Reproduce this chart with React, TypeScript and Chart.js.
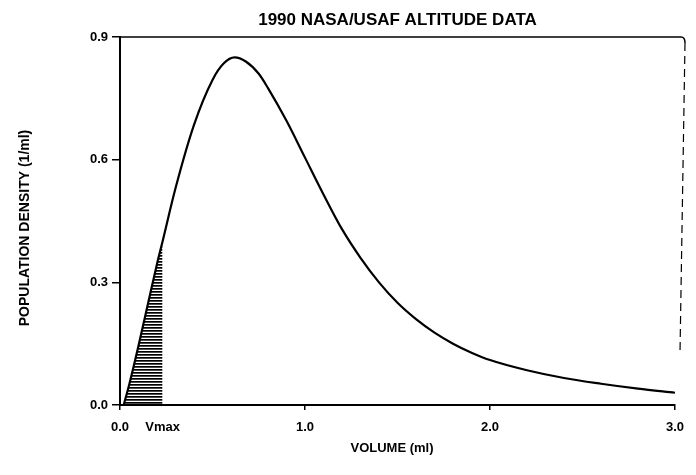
import React, { useEffect, useRef } from "react";
import { Chart, registerables } from "chart.js";

Chart.register(...registerables);

const TITLE = "1990 NASA/USAF ALTITUDE DATA";
const X_TITLE = "VOLUME (ml)";
const Y_TITLE = "POPULATION DENSITY (1/ml)";

const VMAX = 0.23;
const VMAX_LABEL = "Vmax";

const volume = [0.02, 0.05, 0.1, 0.15, 0.2, 0.23, 0.3, 0.4, 0.5, 0.56, 0.62, 0.68, 0.75, 0.8, 0.9, 1.0, 1.1, 1.2, 1.3, 1.4, 1.5, 1.6, 1.7, 1.8, 1.9, 2.0, 2.2, 2.4, 2.6, 2.8, 3.0];
const density = [0.0, 0.05, 0.145, 0.245, 0.345, 0.4, 0.53, 0.685, 0.795, 0.835, 0.85, 0.84, 0.81, 0.775, 0.695, 0.605, 0.515, 0.43, 0.36, 0.3, 0.25, 0.21, 0.177, 0.15, 0.128, 0.11, 0.085, 0.066, 0.052, 0.04, 0.03];

const xTicks = [0, 1, 2, 3];
const yTicks = [0, 0.3, 0.6, 0.9];

const FONT = "'Liberation Sans', Arial, sans-serif";

export default function App() {
  const ref = useRef<HTMLCanvasElement | null>(null);

  useEffect(() => {
    const canvas = ref.current;
    if (!canvas) return;

    const pc = document.createElement("canvas");
    pc.width = 4;
    pc.height = 3;
    const pctx = pc.getContext("2d")!;
    pctx.fillStyle = "#000";
    pctx.fillRect(0, 0, 4, 1.7);
    const pattern = canvas.getContext("2d")!.createPattern(pc, "repeat");

    const curve = volume.map((v, i) => ({ x: v, y: density[i] }));
    const shaded = curve.filter((p) => p.x <= VMAX + 1e-9);

    const decor = {
      id: "decor",
      afterDraw(chart: any) {
        const { ctx, chartArea } = chart;
        ctx.save();
        ctx.strokeStyle = "#000";
        ctx.lineWidth = 1.5;
        ctx.beginPath();
        ctx.moveTo(chartArea.left, chartArea.top);
        ctx.lineTo(chartArea.right + 6, chartArea.top);
        ctx.quadraticCurveTo(chartArea.right + 10, chartArea.top, chartArea.right + 10, chartArea.top + 6);
        ctx.stroke();
        ctx.setLineDash([8, 5]);
        ctx.lineWidth = 1.2;
        ctx.beginPath();
        ctx.moveTo(chartArea.right + 10, chartArea.top + 6);
        ctx.lineTo(chartArea.right + 5, chartArea.bottom - 52);
        ctx.stroke();
        ctx.setLineDash([]);

        ctx.fillStyle = "#000";
        ctx.textAlign = "center";
        ctx.textBaseline = "middle";
        ctx.font = `bold 17px ${FONT}`;
        ctx.fillText(TITLE, (chartArea.left + chartArea.right) / 2, 20);
        ctx.font = `bold 13px ${FONT}`;
        ctx.fillText(X_TITLE, 392, 448);
        ctx.translate(25, 228);
        ctx.rotate(-Math.PI / 2);
        ctx.font = `bold 14px ${FONT}`;
        ctx.fillText(Y_TITLE, 0, 0);
        ctx.restore();
      },
    };

    const chart = new Chart(canvas, {
      type: "line",
      data: {
        datasets: [
          {
            data: shaded,
            borderWidth: 0,
            pointRadius: 0,
            fill: "origin",
            backgroundColor: pattern as any,
            cubicInterpolationMode: "monotone",
          },
          {
            data: curve,
            borderColor: "#000",
            borderWidth: 2.2,
            pointRadius: 0,
            fill: false,
            cubicInterpolationMode: "monotone",
          },
        ],
      },
      options: {
        animation: false,
        responsive: true,
        maintainAspectRatio: false,
        layout: { padding: { top: 37, right: 21, left: 0, bottom: 0 } },
        plugins: { legend: { display: false }, tooltip: { enabled: false }, title: { display: false } },
        scales: {
          x: {
            type: "linear",
            min: 0,
            max: 3,
            afterBuildTicks: (scale: any) => {
              const t = xTicks.map((v) => ({ value: v }));
              t.splice(1, 0, { value: VMAX });
              scale.ticks = t;
            },
            afterFit: (scale: any) => {
              scale.height = 70;
            },
            ticks: {
              autoSkip: false,
              maxRotation: 0,
              padding: 10,
              color: "#000",
              font: { family: FONT, size: 13, weight: "bold" },
              callback: (v: any) => (Math.abs(v - VMAX) < 1e-9 ? VMAX_LABEL : Number(v).toFixed(1)),
            },
            grid: {
              drawOnChartArea: false,
              drawTicks: true,
              tickLength: 5,
              color: (c: any) => (c.tick && Math.abs(c.tick.value - VMAX) < 1e-9 ? "rgba(0,0,0,0)" : "#000"),
              lineWidth: 1.5,
            },
            border: { display: true, color: "#000", width: 2 },
          },
          y: {
            min: 0,
            max: 0.9,
            afterBuildTicks: (scale: any) => {
              scale.ticks = yTicks.map((v) => ({ value: v }));
            },
            afterFit: (scale: any) => {
              scale.width = 120;
            },
            ticks: {
              padding: 4,
              color: "#000",
              font: { family: FONT, size: 13, weight: "bold" },
              callback: (v: any) => Number(v).toFixed(1),
            },
            grid: {
              drawOnChartArea: false,
              drawTicks: true,
              tickLength: 8,
              color: "#000",
              lineWidth: 1.5,
            },
            border: { display: true, color: "#000", width: 2 },
          },
        },
      },
      plugins: [decor],
    });

    return () => chart.destroy();
  }, []);

  return (
    <div style={{ position: "fixed", left: 0, top: 0, width: 696, height: 475, background: "#fff" }}>
      <canvas ref={ref} />
    </div>
  );
}
